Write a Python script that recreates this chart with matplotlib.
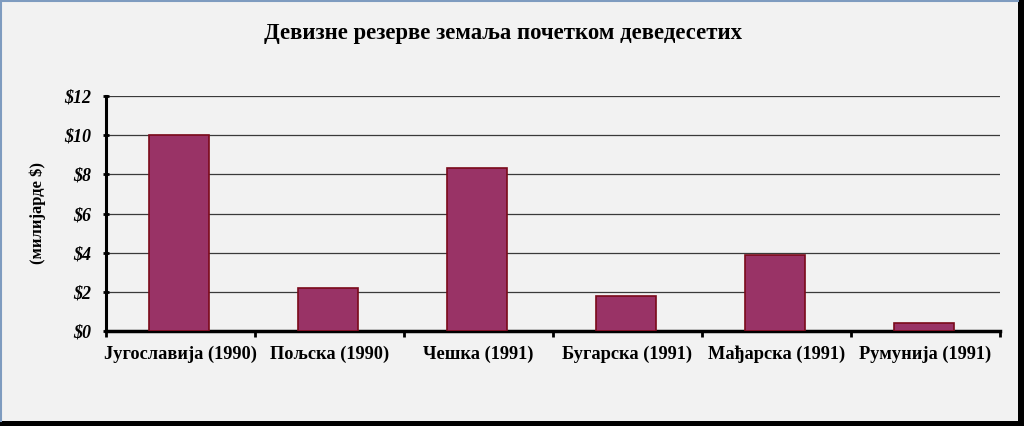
import matplotlib
matplotlib.use("Agg")
import matplotlib.pyplot as plt
from matplotlib.patches import Rectangle
import numpy as np

categories = ["Југославија (1990)", "Пољска (1990)", "Чешка (1991)",
              "Бугарска (1991)", "Мађарска (1991)", "Румунија (1991)"]
values = [10.0, 2.2, 8.3, 1.8, 3.9, 0.4]
yticks = [0, 2, 4, 6, 8, 10, 12]
ytick_labels = ["$0", "$2", "$4", "$6", "$8", "$10", "$12"]
title = "Девизне резерве земаља почетком деведесетих"
ylabel = "(милијарде $)"

W, H = 1024, 426
fig = plt.figure(figsize=(W / 100, H / 100), dpi=100, facecolor="black")

# light panel with shadow on right/bottom
panel = Rectangle((0, 5 / H), 1018 / W, 1 - 5 / H, transform=fig.transFigure,
                  facecolor="#f2f2f2", edgecolor="none", zorder=-10)
fig.patches.append(panel)
fig.add_artist(plt.Line2D([1 / W, 1 / W], [5 / H, 1], color="#7f9cc0", lw=1.5,
                          transform=fig.transFigure, zorder=-5))
fig.add_artist(plt.Line2D([0, 1018 / W], [1 - 1 / H, 1 - 1 / H], color="#7f9cc0", lw=1.5,
                          transform=fig.transFigure, zorder=-5))

ax = fig.add_axes([106 / W, 1 - 331 / H, (1000 - 106) / W, (331 - 96) / H])
ax.set_zorder(1)
ax.set_facecolor("none")
x = np.arange(len(categories))
ax.bar(x - 0.01, values, width=0.4, color="#993366", edgecolor="#7a0a1a", linewidth=1.2, zorder=3)

ax.set_xlim(-0.5, len(categories) - 0.5)
ax.set_ylim(0, 12)
ax.set_yticks(yticks)
ax.set_yticklabels(ytick_labels, fontfamily="Liberation Serif", fontweight="bold",
                   fontstyle="italic", fontsize=13)
ax.yaxis.grid(True, color="#3a3a3a", linewidth=0.9, zorder=1)
ax.set_axisbelow(True)

ax.set_xticks(x)
ax.set_xticklabels(categories, fontfamily="Liberation Serif", fontweight="bold", fontsize=13.2)
ax.tick_params(axis="x", which="major", length=0, pad=10.5)
ax.set_xticks(np.arange(-0.5, len(categories), 1.0), minor=True)
ax.tick_params(axis="x", which="minor", length=4, width=2, direction="out", color="black")
ax.tick_params(axis="y", length=5, width=2, direction="inout", color="black", pad=8)

for side in ["top", "right"]:
    ax.spines[side].set_visible(False)
ax.spines["left"].set_linewidth(2.2)
ax.spines["bottom"].set_linewidth(2.5)

ax.set_ylabel(ylabel, fontfamily="Liberation Serif", fontweight="bold", fontsize=12,
              labelpad=13)

fig.text(503 / W, 1 - 33 / H, title, ha="center", va="center",
         fontfamily="Liberation Serif", fontweight="bold", fontsize=16.4)

fig.savefig("out.png", dpi=100, facecolor=fig.get_facecolor())
